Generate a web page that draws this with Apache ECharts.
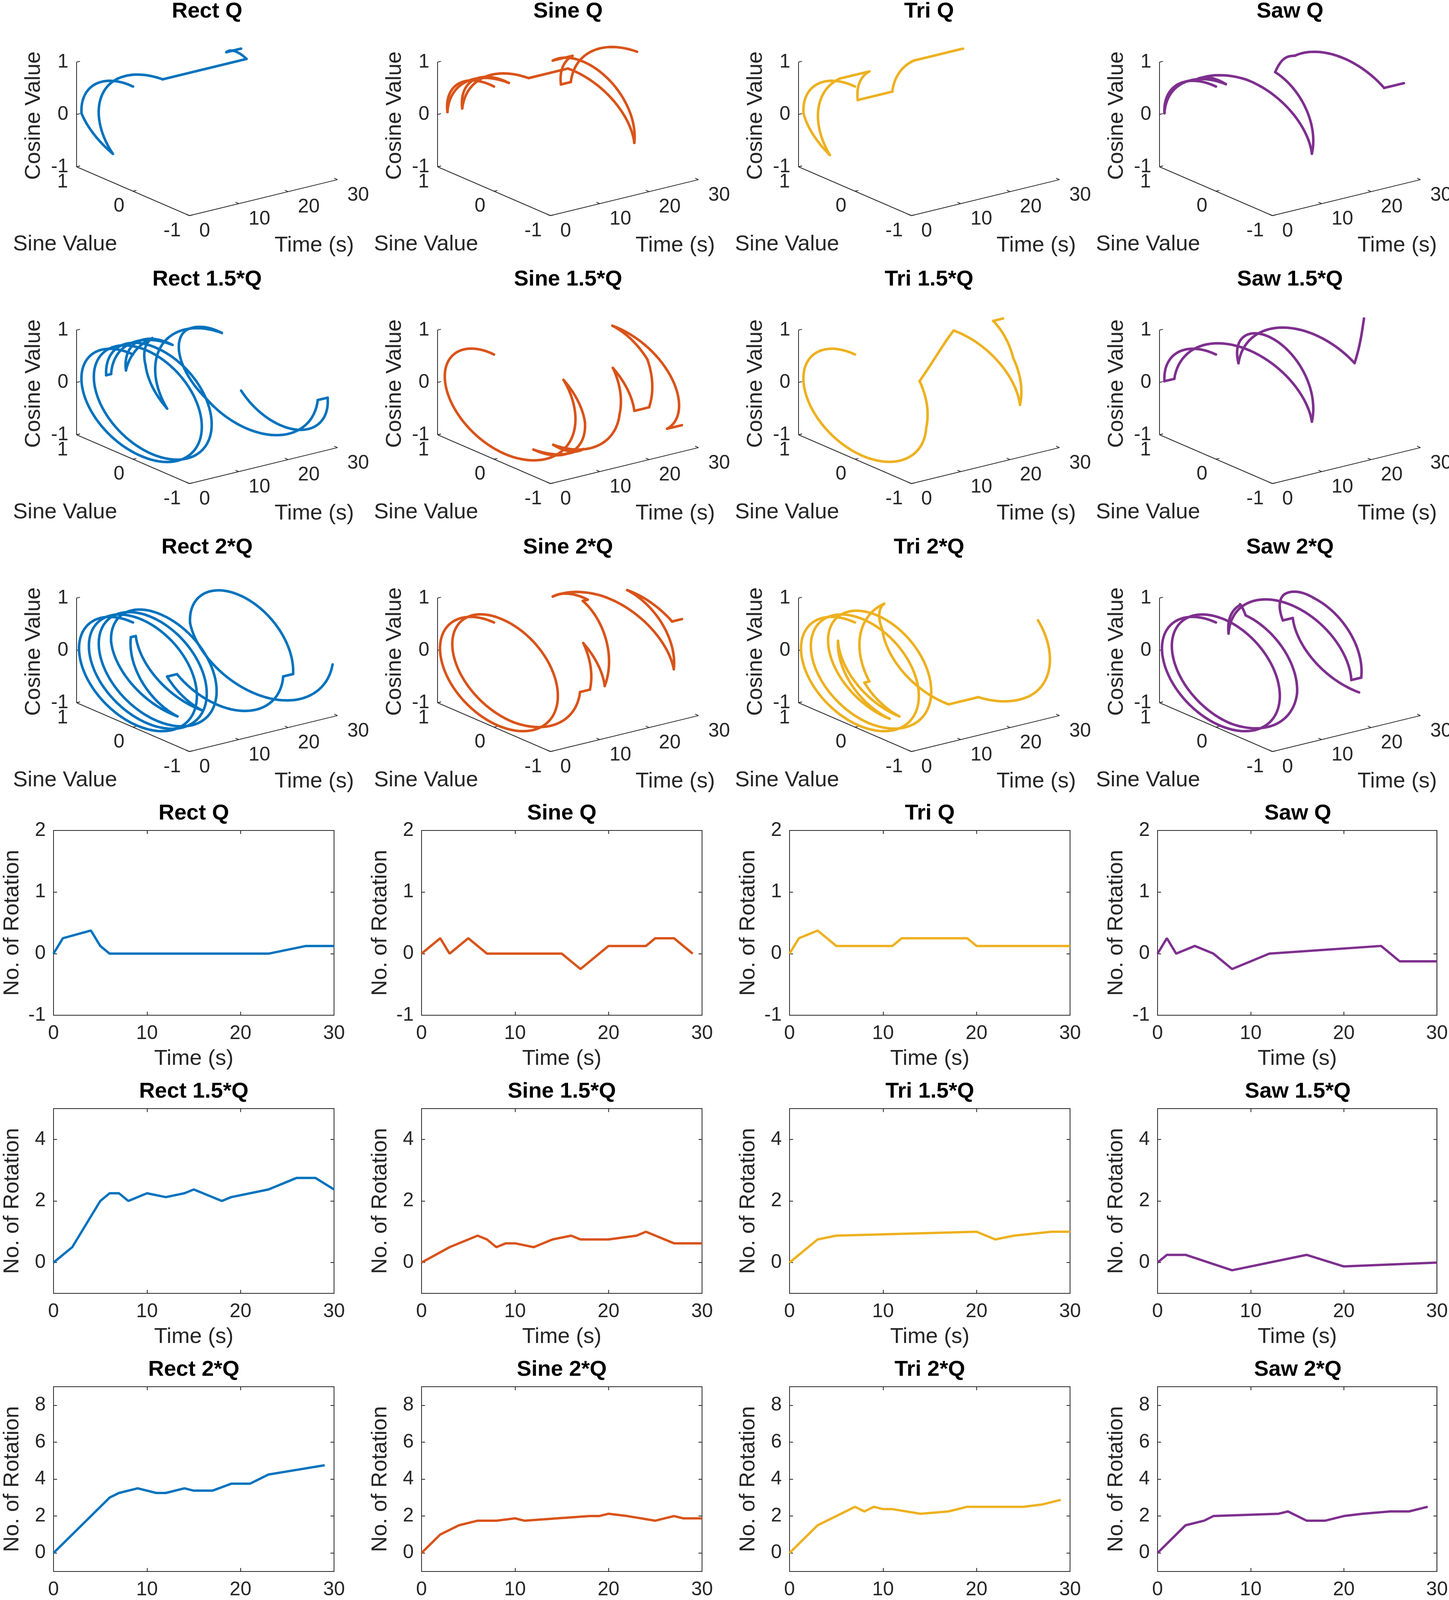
<!DOCTYPE html>
<html><head><meta charset="utf-8">
<script src="https://cdn.jsdelivr.net/npm/echarts@6/dist/echarts.min.js"></script>
<style>html,body{margin:0;padding:0;background:#fff}#c{width:3709px;height:4179px}</style>
</head><body><div id="c"></div>
<script>
// ---- Data: [time (s), number of rotations] ----
const rectQ  = [[0,0],[1,0.25],[4,0.375],[5,0.125],[6,0],[23,0],[27,0.125],[30,0.125]];
const sineQ  = [[0,0],[2,0.25],[3,0],[5,0.25],[7,0],[15,0],[17,-0.25],[20,0.125],[24,0.125],[25,0.25],[27,0.25],[29,0]];
const triQ   = [[0,0],[1,0.25],[3,0.375],[4,0.25],[5,0.125],[11,0.125],[12,0.25],[19,0.25],[20,0.125],[30,0.125]];
const sawQ   = [[0,0],[1,0.25],[2,0],[4,0.125],[6,0],[8,-0.25],[12,0],[24,0.125],[26,-0.125],[30,-0.125]];
const rect15 = [[0,0],[2,0.5],[5,2.0],[6,2.25],[7,2.25],[8,2.0],[10,2.25],[12,2.125],[14,2.25],[15,2.375],[18,2.0],[19,2.125],[23,2.375],[26,2.75],[28,2.75],[30,2.375]];
const sine15 = [[0,0],[3,0.5],[6,0.875],[7,0.75],[8,0.5],[9,0.625],[10,0.625],[12,0.5],[14,0.75],[16,0.875],[17,0.75],[20,0.75],[23,0.875],[24,1.0],[27,0.625],[30,0.625]];
const tri15  = [[0,0],[3,0.75],[5,0.875],[20,1.0],[22,0.75],[24,0.875],[28,1.0],[30,1.0]];
const saw15  = [[0,0],[1,0.25],[3,0.25],[8,-0.25],[16,0.25],[20,-0.125],[30,0]];
const rect2  = [[0,0],[6,3.0],[7,3.25],[9,3.5],[11,3.25],[12,3.25],[14,3.5],[15,3.375],[17,3.375],[19,3.75],[21,3.75],[22,4.0],[23,4.25],[26,4.5],[29,4.75]];
const sine2  = [[0,0],[2,1.0],[4,1.5],[6,1.75],[8,1.75],[10,1.875],[11,1.75],[18,2.0],[19,2.0],[20,2.125],[22,2.0],[25,1.75],[27,2.0],[28,1.875],[30,1.875]];
const tri2   = [[0,0],[3,1.5],[7,2.5],[8,2.25],[9,2.5],[10,2.375],[11,2.375],[14,2.125],[17,2.25],[19,2.5],[25,2.5],[27,2.625],[29,2.875]];
const saw2   = [[0,0],[3,1.5],[5,1.75],[6,2.0],[13,2.125],[14,2.25],[16,1.75],[18,1.75],[20,2.0],[22,2.125],[25,2.25],[27,2.25],[29,2.5]];

const panelData  = [rectQ, sineQ, triQ, sawQ, rect15, sine15, tri15, saw15, rect2, sine2, tri2, saw2];
const panelNames = ['Rect Q','Sine Q','Tri Q','Saw Q','Rect 1.5*Q','Sine 1.5*Q','Tri 1.5*Q','Saw 1.5*Q','Rect 2*Q','Sine 2*Q','Tri 2*Q','Saw 2*Q'];
const waveColors = ['#0072BD','#D95319','#EDB120','#7E2F8E'];

// tick labels
const timeTicks = [0,10,20,30];
const sineTicks = [1,0,-1];
const cosTicks  = [1,0,-1];
const rotRange  = [[-1,2],[-1,5],[-1,9]];
const rotTicks  = [[-1,0,1,2],[0,2,4],[0,2,4,6,8]];

// ---- styling / layout ----
const FONT = 'Liberation Sans, Arial, Helvetica, sans-serif';
const AX = '#262626';
const TICK_FS = 50, LABEL_FS = 56, TITLE_FS = 56;
const W3 = 924, H3 = 686;               // 3D panel cell
const L2 = 137, T2 = 2126, DX2 = 942, DY2 = 712, GW2 = 718, GH2 = 473; // 2D boxes

// orthographic view of (time, sine, cosine) inside a 3D panel cell (pixels in the cell)
function proj(t, s, c) {
  return [485 + 12.63 * t - 144.5 * (s + 1), 552 - 3.07 * t - 62.5 * (s + 1) - 134 * (c + 1)];
}

const grid = [], xAxis = [], yAxis = [], series = [], title = [];

// 3D panels
for (let i = 0; i < 12; i++) {
  const r = Math.floor(i / 4), c = i % 4;
  grid.push({left: W3 * c, top: H3 * r, width: W3, height: H3, show: false});
  xAxis.push({type: 'value', gridIndex: i, min: 0, max: W3, show: false});
  yAxis.push({type: 'value', gridIndex: i, min: 0, max: H3, inverse: true, show: false});
  title.push({text: panelNames[i], left: 530 + W3 * c, top: 2 + H3 * r, textAlign: 'center', padding: 0,
    textStyle: {fontSize: TITLE_FS, fontWeight: 'bold', color: '#000', fontFamily: FONT}});
}
// 2D panels
for (let k = 0; k < 12; k++) {
  const r = Math.floor(k / 4), c = k % 4;
  const left = L2 + DX2 * c, top = T2 + DY2 * r;
  grid.push({left: left, top: top, width: GW2, height: GH2, show: true, borderColor: AX, borderWidth: 2, backgroundColor: '#fff'});
  title.push({text: panelNames[k], left: left + GW2 / 2, top: top - 71, textAlign: 'center', padding: 0,
    textStyle: {fontSize: TITLE_FS, fontWeight: 'bold', color: '#000', fontFamily: FONT}});
}
const base2x = xAxis.length;
for (let k = 0; k < 12; k++) {
  xAxis.push({type: 'value', gridIndex: 12 + k, position: 'bottom', min: 0, max: 30, interval: 10,
    axisLine: {onZero: false, lineStyle: {color: AX, width: 2}}, axisTick: {inside: true, length: 9, lineStyle: {color: AX, width: 2}},
    axisLabel: {fontSize: TICK_FS, color: AX, fontFamily: FONT, margin: 22}, splitLine: {show: false},
    name: 'Time (s)', nameLocation: 'middle', nameGap: 84, nameTextStyle: {fontSize: LABEL_FS, color: AX, fontFamily: FONT}});
}
for (let k = 0; k < 12; k++) {
  xAxis.push({type: 'value', gridIndex: 12 + k, position: 'top', min: 0, max: 30, interval: 10,
    axisLine: {onZero: false, lineStyle: {color: AX, width: 2}}, axisTick: {inside: true, length: 9, lineStyle: {color: AX, width: 2}},
    axisLabel: {show: false}, splitLine: {show: false}});
}
const base2y = yAxis.length;
for (let k = 0; k < 12; k++) {
  const r = Math.floor(k / 4);
  yAxis.push({type: 'value', gridIndex: 12 + k, position: 'left', min: rotRange[r][0], max: rotRange[r][1],
    axisLine: {onZero: false, lineStyle: {color: AX, width: 2}},
    axisTick: {inside: true, length: 9, customValues: rotTicks[r], lineStyle: {color: AX, width: 2}},
    axisLabel: {fontSize: TICK_FS, color: AX, fontFamily: FONT, margin: 20, customValues: rotTicks[r]}, splitLine: {show: false},
    name: 'No. of Rotation', nameLocation: 'middle', nameGap: 77, nameTextStyle: {fontSize: LABEL_FS, color: AX, fontFamily: FONT}});
}
for (let k = 0; k < 12; k++) {
  const r = Math.floor(k / 4);
  yAxis.push({type: 'value', gridIndex: 12 + k, position: 'right', min: rotRange[r][0], max: rotRange[r][1],
    axisLine: {onZero: false, lineStyle: {color: AX, width: 2}},
    axisTick: {inside: true, length: 9, customValues: rotTicks[r], lineStyle: {color: AX, width: 2}},
    axisLabel: {show: false}, splitLine: {show: false}});
}

// 3D axes, ticks and texts
function axes3D(params, api) {
  const C = p => api.coord(p);
  const seg = (a, b) => ({type: 'line', shape: {x1: a[0], y1: a[1], x2: b[0], y2: b[1]}, style: {stroke: AX, lineWidth: 2}});
  const ch = [];
  ch.push(seg(C(proj(0, 1, -1)), C(proj(0, 1, 1))));
  ch.push(seg(C(proj(0, 1, -1)), C(proj(0, -1, -1))));
  ch.push(seg(C(proj(0, -1, -1)), C(proj(30, -1, -1))));
  cosTicks.forEach(v => ch.push(seg(C(proj(0, 1, v)), C(proj(0.7, 1, v)))));
  sineTicks.forEach(v => ch.push(seg(C(proj(0, v, -1)), C(proj(0.7, v, -1)))));
  timeTicks.forEach(v => ch.push(seg(C(proj(v, -1, -1)), C(proj(v, -0.94, -1)))));
  const txt = (p, dx, dy, text, align, fs, rot) => ({type: 'text', x: p[0] + dx, y: p[1] + dy, rotation: rot || 0,
    style: {text: text, fontSize: fs, fontFamily: FONT, fill: AX, align: align, verticalAlign: 'middle'}});
  cosTicks.forEach(v => ch.push(txt(C(proj(0, 1, v)), -21, 0, String(v), 'right', TICK_FS)));
  sineTicks.forEach(v => ch.push(txt(C(proj(0, v, -1)), -22, 39, String(v), 'right', TICK_FS)));
  timeTicks.forEach(v => ch.push(txt(C(proj(v, -1, -1)), 25, 40, String(v), 'left', TICK_FS)));
  ch.push(txt(C(proj(0, 1, 0)), -109, 3, 'Cosine Value', 'center', LABEL_FS, Math.PI / 2));
  ch.push(txt(C(proj(0, 0, -1)), -174, 136, 'Sine Value', 'center', LABEL_FS));
  ch.push(txt(C(proj(15, -1, -1)), 130, 123, 'Time (s)', 'center', LABEL_FS));
  return {type: 'group', children: ch};
}

function curve3D(arr, color) {
  return function (params, api) {
    const i = params.dataIndex;
    if (i === 0) return null;
    const t0 = arr[i - 1][0], r0 = arr[i - 1][1];
    const t1 = api.value(0), r1 = api.value(1);
    const n = Math.max(1, Math.ceil(Math.abs(r1 - r0) * 90));
    const pts = [];
    for (let k = 0; k <= n; k++) {
      const f = k / n, th = 2 * Math.PI * (r0 + (r1 - r0) * f);
      pts.push(api.coord(proj(t0 + (t1 - t0) * f, Math.sin(th), Math.cos(th))));
    }
    return {type: 'polyline', shape: {points: pts},
      style: {stroke: color, lineWidth: 6.5, fill: null, lineCap: 'round', lineJoin: 'round'}};
  };
}

for (let i = 0; i < 12; i++) {
  const color = waveColors[i % 4];
  series.push({type: 'custom', xAxisIndex: i, yAxisIndex: i, data: [[0, 0]], renderItem: axes3D, silent: true, z: 1});
  series.push({type: 'custom', xAxisIndex: i, yAxisIndex: i, data: panelData[i], encode: {x: 0, y: 1},
    renderItem: curve3D(panelData[i], color), silent: true, z: 2});
  series.push({type: 'line', xAxisIndex: base2x + i, yAxisIndex: base2y + i, data: panelData[i],
    symbol: 'none', lineStyle: {width: 6, color: color}, itemStyle: {color: color}, z: 3, silent: true});
}

const chart = echarts.init(document.getElementById('c'), null, {renderer: 'canvas', width: 3709, height: 4179});
chart.setOption({animation: false, backgroundColor: '#fff', title, grid, xAxis, yAxis, series});
</script></body></html>
